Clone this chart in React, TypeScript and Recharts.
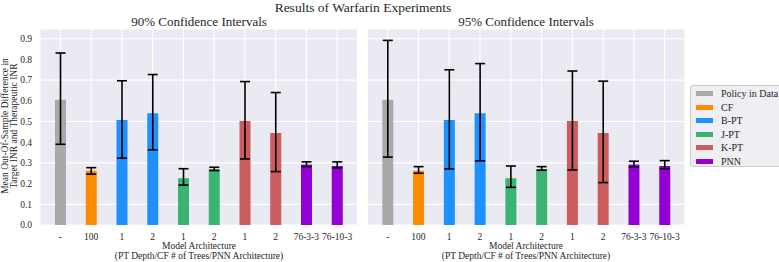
import React from 'react';
import { BarChart, Bar, XAxis, YAxis, CartesianGrid, ErrorBar, Cell } from 'recharts';

// tick labels along the x axis (one per bar)
const archLabels = ['-', '100', '1', '2', '1', '2', '1', '2', '76-3-3', '76-10-3'];
const modelGroups = ['Policy in Data', 'CF', 'B-PT', 'B-PT', 'J-PT', 'J-PT', 'K-PT', 'K-PT', 'PNN', 'PNN'];

// mean out-of-sample difference
const meanDiff = [0.605, 0.262, 0.507, 0.540, 0.226, 0.270, 0.503, 0.445, 0.292, 0.285];

// confidence interval bounds
const ci90Low = [0.39, 0.246, 0.323, 0.363, 0.193, 0.263, 0.319, 0.258, 0.282, 0.276];
const ci90High = [0.831, 0.277, 0.697, 0.727, 0.272, 0.279, 0.693, 0.640, 0.305, 0.305];
const ci95Low = [0.328, 0.250, 0.271, 0.310, 0.182, 0.265, 0.266, 0.205, 0.281, 0.272];
const ci95High = [0.892, 0.282, 0.750, 0.780, 0.285, 0.282, 0.744, 0.695, 0.308, 0.311];

const legendNames = ['Policy in Data', 'CF', 'B-PT', 'J-PT', 'K-PT', 'PNN'];
const legendColors = ['#a9a9a9', '#ff8c00', '#1e90ff', '#3cb371', '#cd5c5c', '#9400d3'];

const yTicks = [0, 0.1, 0.2, 0.3, 0.4, 0.5, 0.6, 0.7, 0.8, 0.9];

const FONT = '"Liberation Serif", "Times New Roman", serif';
const TEXT = '#262626';

const colorOf = (group: string) => legendColors[legendNames.indexOf(group)];

interface PanelProps {
  low: number[];
  high: number[];
  left: number;
  width: number;
  marginLeft: number;
  marginRight: number;
  showY: boolean;
}

function Panel({ low, high, left, width, marginLeft, marginRight, showY }: PanelProps) {
  const data = meanDiff.map((v, i) => ({
    id: i,
    value: v,
    err: [v - low[i], high[i] - v],
    group: modelGroups[i],
  }));

  return (
    <div style={{ position: 'absolute', left, top: 0 }}>
      <BarChart
        width={width}
        height={262}
        data={data}
        margin={{ top: 29, right: marginRight, bottom: 17, left: marginLeft }}
      >
        <CartesianGrid fill="#eaeaf2" stroke="#ffffff" strokeWidth={1.2} />
        <XAxis
          dataKey="id"
          type="category"
          height={20}
          padding={{ left: 5, right: 5 }}
          tickFormatter={(_v: any, i: number) => archLabels[i]}
          tick={{ fill: TEXT, fontSize: 9.5, fontFamily: FONT }}
          tickLine={false}
          axisLine={false}
          interval={0}
        />
        <YAxis
          hide={!showY}
          width={30}
          domain={[0, 0.947]}
          ticks={yTicks}
          tickFormatter={(v: number) => v.toFixed(1)}
          tick={{ fill: TEXT, fontSize: 9.5, fontFamily: FONT }}
          tickLine={false}
          axisLine={false}
        />
        <Bar dataKey="value" barSize={11} isAnimationActive={false}>
          {data.map((d) => (
            <Cell key={d.id} fill={colorOf(d.group)} />
          ))}
          <ErrorBar dataKey="err" width={5} strokeWidth={1.6} stroke="#000000" direction="y" />
        </Bar>
      </BarChart>
    </div>
  );
}

function Label({ x, y, size, children, rotate }: { x: number; y: number; size: number; children: React.ReactNode; rotate?: boolean }) {
  return (
    <div
      style={{
        position: 'absolute',
        left: x,
        top: y,
        transform: `translate(-50%, -50%)${rotate ? ' rotate(-90deg)' : ''}`,
        fontFamily: FONT,
        fontSize: size,
        color: TEXT,
        whiteSpace: 'nowrap',
        textAlign: 'center',
        lineHeight: 1,
      }}
    >
      {children}
    </div>
  );
}

export default function App() {
  return (
    <div style={{ position: 'absolute', left: 0, top: 0, width: 779, height: 262, background: '#fff', overflow: 'hidden' }}>
      <Panel low={ci90Low} high={ci90High} left={0} width={362} marginLeft={10} marginRight={4.5} showY />
      <Panel low={ci95Low} high={ci95High} left={362} width={328} marginLeft={5.3} marginRight={5} showY={false} />

      <Label x={363} y={7.5} size={13.5}>Results of Warfarin Experiments</Label>
      <Label x={199} y={21} size={13}>90% Confidence Intervals</Label>
      <Label x={526} y={21} size={13}>95% Confidence Intervals</Label>

      <Label x={199} y={247} size={9.5}>Model Architecture</Label>
      <Label x={199} y={257} size={9.5}>(PT Depth/CF # of Trees/PNN Architecture)</Label>
      <Label x={526} y={247} size={9.5}>Model Architecture</Label>
      <Label x={526} y={257} size={9.5}>(PT Depth/CF # of Trees/PNN Architecture)</Label>

      <Label x={6} y={126} size={9.5} rotate>Mean Out-Of-Sample Difference in</Label>
      <Label x={14.5} y={126} size={9.5} rotate>Target INR and Therapeutic INR</Label>

      <div
        style={{
          position: 'absolute',
          left: 690,
          top: 85,
          width: 92,
          height: 82,
          boxSizing: 'border-box',
          background: '#eeeef3',
          border: '1px solid #cccccc',
          borderRadius: 3,
          paddingTop: 1,
        }}
      >
        {legendNames.map((name, i) => (
          <div key={name} style={{ display: 'flex', alignItems: 'center', height: 13.5 }}>
            <div style={{ width: 17, height: 5, marginLeft: 4.5, background: legendColors[i] }} />
            <span style={{ marginLeft: 8.5, fontFamily: FONT, fontSize: 10, color: TEXT, whiteSpace: 'nowrap' }}>{name}</span>
          </div>
        ))}
      </div>
    </div>
  );
}
